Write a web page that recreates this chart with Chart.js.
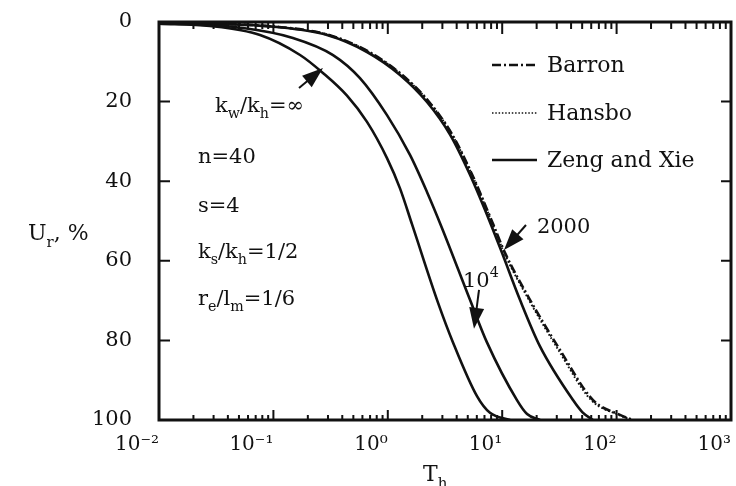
<!DOCTYPE html>
<html><head><meta charset="utf-8">
<script src="https://cdn.jsdelivr.net/npm/chart.js@4.4.1/dist/chart.umd.min.js"></script>
<style>html,body{margin:0;padding:0;background:#fff}#wrap{width:736px;height:486px}</style>
</head><body><div id="wrap"><canvas id="c" width="736" height="486"></canvas></div>
<script>
// ---- data ----
const xTickValues = [0.01, 0.1, 1, 10, 100, 1000];
const xTickLabels = ['10\u207B\u00B2', '10\u207B\u00B9', '10\u2070', '10\u00B9', '10\u00B2', '10\u00B3'];
const yTickValues = [0, 20, 40, 60, 80, 100];

// Zeng and Xie, kw/kh = infinity
const infT = [0.01, 0.0279, 0.0764, 0.171, 0.271, 0.44, 0.658, 0.984, 1.278, 1.627, 2.746, 3.715, 6.02, 7.82, 11.7];
const infU = [0.4, 1.0, 3.27, 8.29, 12.8, 18.5, 25.1, 34.2, 41.8, 50.8, 70.5, 80.5, 94.0, 98.2, 100];
// Zeng and Xie, kw/kh = 10^4
const e4T = [0.01, 0.0542, 0.148, 0.332, 0.571, 0.984, 1.563, 2.20, 2.98, 5.23, 7.36, 13.46, 16.5, 21.4];
const e4U = [0.25, 1.5, 4.0, 8.3, 14.1, 23.4, 33.4, 42.7, 51.8, 69.8, 80.5, 95.0, 98.5, 100];
// Zeng and Xie, kw/kh = 2000
const k2T = [0.01, 0.107, 0.294, 0.658, 1.278, 2.20, 3.50, 5.23, 7.82, 9.96, 14.3, 21.4, 41.6, 50.1, 62.2];
const k2U = [0.1, 1.26, 3.27, 7.54, 13.3, 20.1, 28.3, 38.4, 50.3, 58.0, 69.8, 81.5, 95.0, 98.0, 100];
// Barron
const barT = [0.01, 0.112, 0.307, 0.688, 1.335, 2.30, 3.66, 5.47, 8.2, 10.58, 17.5, 32.0, 62.2, 107, 139];
const barU = [0.1, 1.26, 3.27, 7.54, 13.3, 20.1, 28.3, 38.4, 50.3, 58.0, 69.8, 82.4, 95.0, 98.7, 100];
// Hansbo
const hanT = [0.01, 0.111, 0.305, 0.684, 1.328, 2.29, 3.64, 5.44, 8.12, 10.4, 17.1, 31.0, 60.0, 104, 136];
const hanU = [0.1, 1.26, 3.27, 7.54, 13.3, 20.1, 28.3, 38.4, 50.3, 58.0, 69.8, 82.4, 95.0, 98.7, 100];

const INK = '#111';
const FONT = '"DejaVu Serif", serif';
const pts = (T, U) => T.map((t, i) => ({x: t, y: U[i]}));
const base = {showLine: true, pointRadius: 0, borderColor: INK, borderWidth: 2.6, fill: false, cubicInterpolationMode: 'monotone'};

function rich(ctx, x, y, parts, size) {
  let cx = x;
  for (const p of parts) {
    let s = size, dy = 0;
    if (p.sub) { s = size * 0.68; dy = size * 0.3; }
    if (p.sup) { s = size * 0.68; dy = -size * 0.48; }
    ctx.font = s + 'px ' + FONT;
    ctx.fillText(p.t, cx, y + dy);
    cx += ctx.measureText(p.t).width;
  }
}
function arrow(ctx, x1, y1, x2, y2, hl, hw) {
  const a = Math.atan2(y2 - y1, x2 - x1), c = Math.cos(a), s = Math.sin(a);
  ctx.beginPath(); ctx.moveTo(x1, y1); ctx.lineTo(x2 - c * hl * 0.5, y2 - s * hl * 0.5); ctx.stroke();
  const bx = x2 - c * hl, by = y2 - s * hl;
  ctx.beginPath(); ctx.moveTo(x2, y2);
  ctx.lineTo(bx - s * hw / 2, by + c * hw / 2);
  ctx.lineTo(bx + s * hw / 2, by - c * hw / 2);
  ctx.closePath(); ctx.fill();
}

const decor = {
  id: 'decor',
  afterDraw(chart) {
    const ctx = chart.ctx, a = chart.chartArea, xs = chart.scales.x, ys = chart.scales.y;
    const P = (t, u) => [xs.getPixelForValue(t), ys.getPixelForValue(u)];
    ctx.save();
    ctx.strokeStyle = INK; ctx.fillStyle = INK; ctx.lineCap = 'butt';
    // frame
    ctx.lineWidth = 3; ctx.strokeRect(a.left, a.top, a.right - a.left, a.bottom - a.top);
    // x minor/major ticks (inward, top and bottom)
    ctx.lineWidth = 2;
    for (let e = -2; e <= 2; e++) {
      for (let k = 1; k <= 9; k++) {
        const px = xs.getPixelForValue(k * Math.pow(10, e));
        const major = k === 1;
        ctx.beginPath();
        ctx.moveTo(px, a.bottom); ctx.lineTo(px, a.bottom - (major ? 10 : 5));
        ctx.moveTo(px, a.top); ctx.lineTo(px, a.top + (major ? 12 : 7));
        ctx.stroke();
      }
    }
    // y ticks (inward, left and right)
    for (const v of yTickValues.slice(1, -1)) {
      const py = ys.getPixelForValue(v);
      ctx.beginPath();
      ctx.moveTo(a.left, py); ctx.lineTo(a.left + 11, py);
      ctx.moveTo(a.right, py); ctx.lineTo(a.right - 10, py);
      ctx.stroke();
    }
    // legend
    const leg = [
      {label: 'Barron', dash: [9, 3, 2, 3], y: 65},
      {label: 'Hansbo', dash: [1.5, 1.8], y: 113, w: 1.6},
      {label: 'Zeng and Xie', dash: [], y: 160}
    ];
    ctx.textBaseline = 'alphabetic'; ctx.textAlign = 'left';
    for (const l of leg) {
      ctx.setLineDash(l.dash); ctx.lineWidth = l.w || 2.4;
      ctx.beginPath(); ctx.moveTo(492, l.y); ctx.lineTo(537, l.y); ctx.stroke();
      ctx.setLineDash([]);
      ctx.font = '22px ' + FONT;
      ctx.fillText(l.label, 547, l.y + 7);
    }
    // parameter notes (anchored in data coordinates)
    const notes = [
      {at: [0.0309, 22.6], parts: [{t: 'k'}, {t: 'w', sub: 1}, {t: '/k'}, {t: 'h', sub: 1}, {t: '=\u221E'}]},
      {at: [0.0219, 35.4], parts: [{t: 'n=40'}]},
      {at: [0.0219, 47.7], parts: [{t: 's=4'}]},
      {at: [0.0219, 59.3], parts: [{t: 'k'}, {t: 's', sub: 1}, {t: '/k'}, {t: 'h', sub: 1}, {t: '=1/2'}]},
      {at: [0.0219, 71.1], parts: [{t: 'r'}, {t: 'e', sub: 1}, {t: '/l'}, {t: 'm', sub: 1}, {t: '=1/6'}]},
      {at: [20.1, 53.0], parts: [{t: '2000'}]},
      {at: [4.54, 66.6], parts: [{t: '10'}, {t: '4', sup: 1}]}
    ];
    for (const n of notes) { const [x, y] = P(n.at[0], n.at[1]); rich(ctx, x, y, n.parts, 21); }
    // arrows
    ctx.lineWidth = 2;
    const arrows = [
      [[0.1674, 16.6], [0.2715, 11.56]],
      [[16.14, 51.0], [10.37, 57.3]],
      [[6.27, 67.3], [5.67, 77.1]]
    ];
    for (const [f, t] of arrows) { const [x1, y1] = P(f[0], f[1]); const [x2, y2] = P(t[0], t[1]); arrow(ctx, x1, y1, x2, y2, 21, 15); }
    // axis titles
    rich(ctx, 28, 240, [{t: 'U'}, {t: 'r', sub: 1}, {t: ', %'}], 22);
    rich(ctx, 423, 481, [{t: 'T'}, {t: 'h', sub: 1}], 22);
    ctx.restore();
  }
};

new Chart(document.getElementById('c'), {
  type: 'scatter',
  data: {
    datasets: [
      Object.assign({}, base, {label: 'inf', data: pts(infT, infU)}),
      Object.assign({}, base, {label: '1e4', data: pts(e4T, e4U)}),
      Object.assign({}, base, {label: '2000', data: pts(k2T, k2U)}),
      Object.assign({}, base, {label: 'Barron', data: pts(barT, barU), borderDash: [9, 3, 2, 3], borderWidth: 2.6}),
      Object.assign({}, base, {label: 'Hansbo', data: pts(hanT, hanU), borderDash: [1.6, 2.2], borderWidth: 2})
    ]
  },
  options: {
    responsive: false, animation: false, events: [],
    layout: {padding: {top: 22, right: 5, left: 0, bottom: 0}},
    plugins: {legend: {display: false}, tooltip: {enabled: false}},
    scales: {
      x: {
        type: 'logarithmic', position: 'bottom', min: 0.01, max: 1000,
        grid: {display: false, drawTicks: false}, border: {display: false},
        afterBuildTicks: s => { s.ticks = xTickValues.map(v => ({value: v})); },
        afterFit: s => { s.height = 66; s.paddingLeft = 0; s.paddingRight = 0; },
        ticks: {
          callback: (v, i) => xTickLabels[i], align: 'end', padding: 13, maxRotation: 0, autoSkip: false,
          color: INK, font: {family: 'DejaVu Serif', size: 20}
        }
      },
      y: {
        type: 'linear', reverse: true, min: 0, max: 100,
        grid: {display: false, drawTicks: false}, border: {display: false},
        afterBuildTicks: s => { s.ticks = yTickValues.map(v => ({value: v})); },
        afterFit: s => { s.width = 159; s.paddingTop = 0; s.paddingBottom = 0; },
        ticks: {stepSize: 20, padding: 27, color: INK, font: {family: 'DejaVu Serif', size: 21}}
      }
    }
  },
  plugins: [decor]
});
</script></body></html>
